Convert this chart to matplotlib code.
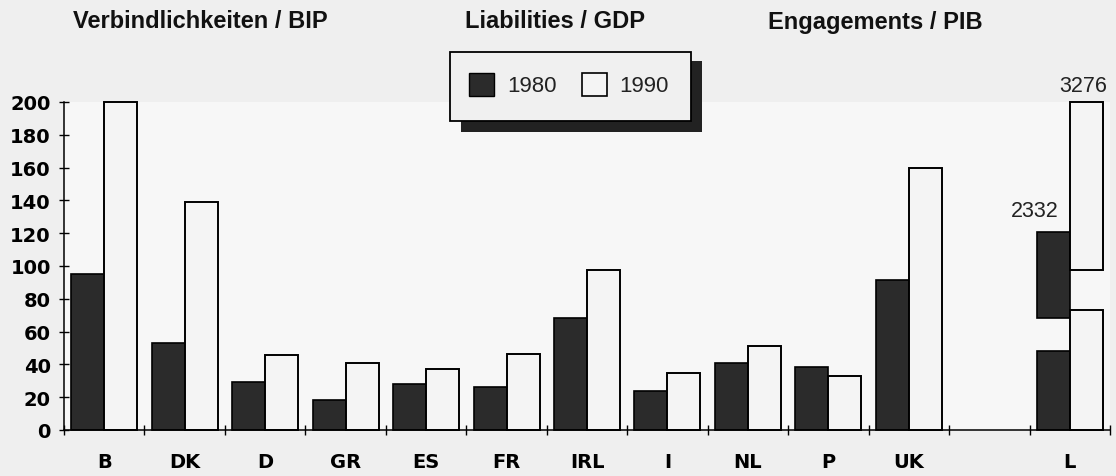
import matplotlib
matplotlib.use("Agg")
import matplotlib.pyplot as plt
from matplotlib.patches import Rectangle
import numpy as np

# ---- data ----
categories = ["B", "DK", "D", "GR", "ES", "FR", "IRL", "I", "NL", "P", "UK", "", "L"]
vals_1980 = [95, 53, 29, 18, 28, 26, 68, 24, 41, 38.5, 91.5, None, None]
vals_1990 = [200, 139, 46, 41, 37, 46.5, 97.5, 35, 51, 33, 160, None, None]
# Luxembourg: off-scale values, drawn as broken bars
lux_values = [2332, 3276]
lux_1980_segments = [(0, 48), (68, 120.5)]
lux_1990_segments = [(0, 73), (97.5, 200)]
yticks = [0, 20, 40, 60, 80, 100, 120, 140, 160, 180, 200]
titles = ["Verbindlichkeiten / BIP", "Liabilities / GDP", "Engagements / PIB"]
legend_labels = ["1980", "1990"]

DARK = "#2b2b2b"
LIGHT = "#f4f4f4"
BG = "#efefef"

fig = plt.figure(figsize=(11.16, 4.77), dpi=100, facecolor=BG)
ax = fig.add_axes([64 / 1116, 46 / 477, 1046 / 1116, 328 / 477])
ax.set_facecolor("#f7f7f7")

x = np.arange(len(categories))
w = 0.41
for i, (a, b) in enumerate(zip(vals_1980, vals_1990)):
    if a is not None:
        ax.bar(x[i] - w / 2, a, width=w, color=DARK, edgecolor="black", linewidth=1.2, clip_on=False)
    if b is not None:
        ax.bar(x[i] + w / 2, b, width=w, color=LIGHT, edgecolor="black", linewidth=1.4, clip_on=False)

li = categories.index("L")
for lo, hi in lux_1980_segments:
    ax.bar(x[li] - w / 2, hi - lo, bottom=lo, width=w, color=DARK, edgecolor="black", linewidth=1.2, clip_on=False)
for lo, hi in lux_1990_segments:
    ax.bar(x[li] + w / 2, hi - lo, bottom=lo, width=w, color=LIGHT, edgecolor="black", linewidth=1.4, clip_on=False)

ax.annotate(str(lux_values[0]), xy=(x[li] - w / 2, lux_1980_segments[-1][1]), xytext=(-13, 8),
            textcoords="offset points", ha="center", va="bottom", fontsize=15.5,
            family="Liberation Sans", color="#222222")
ax.annotate(str(lux_values[1]), xy=(x[li] + w / 2, lux_1990_segments[-1][1]), xytext=(-2, 4),
            textcoords="offset points", ha="center", va="bottom", fontsize=15.5,
            family="Liberation Sans", color="#222222")

ax.set_xlim(-0.5, len(categories) - 0.5)
ax.set_ylim(0, 200)
ax.set_yticks(yticks)
ax.set_yticklabels([str(v) for v in yticks], fontsize=14, fontweight="bold", family="DejaVu Sans")
ax.set_xticks(x)
ax.set_xticklabels(categories, fontsize=14, fontweight="bold", family="DejaVu Sans")
ax.set_xticks(np.arange(-0.5, len(categories)), minor=True)
ax.tick_params(axis="x", which="major", length=0, pad=16)
ax.tick_params(axis="x", which="minor", direction="inout", length=7, width=1)
ax.tick_params(axis="y", direction="inout", length=7, width=1, pad=6)
for s in ["top", "right"]:
    ax.spines[s].set_visible(False)
for s in ["left", "bottom"]:
    ax.spines[s].set_linewidth(1.1)

# titles
for t, cx in zip(titles, [200, 555, 875]):
    fig.text(cx / 1116, 1 - 22 / 477, t, ha="center", va="center", fontsize=17,
             fontweight="bold", family="Liberation Sans", color="#111111")

# legend box with shadow (pixel layout in figure coords)
W, H = 1116, 477
def rect(x0, y0, x1, y1, **kw):
    fig.patches.append(Rectangle((x0 / W, 1 - y1 / H), (x1 - x0) / W, (y1 - y0) / H,
                                 transform=fig.transFigure, **kw))
rect(461, 62, 702, 133, facecolor="#222222", edgecolor="none", zorder=5)
rect(450, 53, 691, 122, facecolor="#f0f0f0", edgecolor="black", linewidth=1.3, zorder=6)
rect(469, 74, 494, 97, facecolor=DARK, edgecolor="black", linewidth=1, zorder=7)
rect(582, 74, 607, 97, facecolor=LIGHT, edgecolor="black", linewidth=1.2, zorder=7)
fig.text(507 / W, 1 - 87 / H, legend_labels[0], ha="left", va="center", fontsize=16,
         family="Liberation Sans", color="#222222", zorder=8)
fig.text(619 / W, 1 - 87 / H, legend_labels[1], ha="left", va="center", fontsize=16,
         family="Liberation Sans", color="#222222", zorder=8)

fig.savefig("out.png", dpi=100, facecolor=BG)
